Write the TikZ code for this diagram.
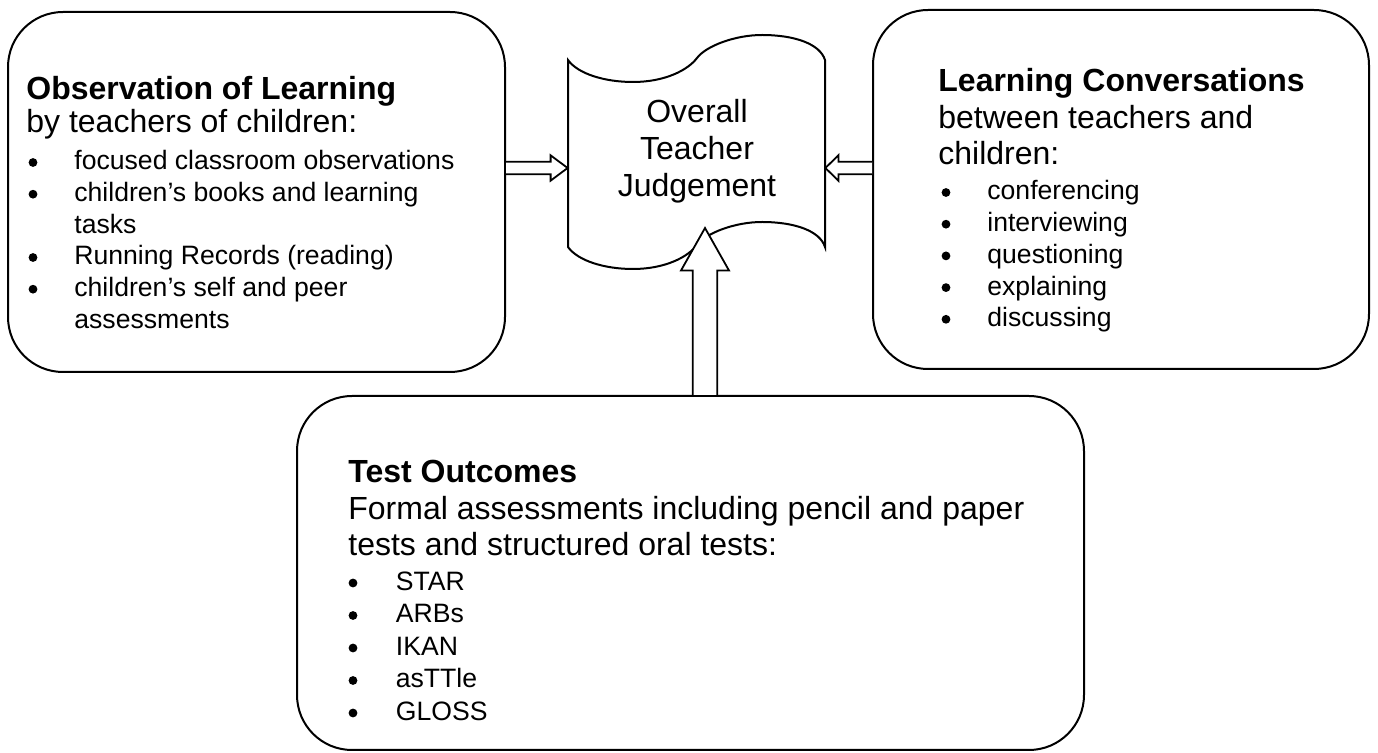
\documentclass[tikz,border=0pt]{standalone}
\usepackage{fontspec}
\setmainfont{Liberation Sans}
\usetikzlibrary{fit,calc}
\newcommand\headsz{\fontsize{16pt}{18.4pt}\selectfont}
\newcommand\itemsz{\fontsize{13.3pt}{15.3pt}\selectfont}
\begin{document}
\begin{tikzpicture}[x=0.5pt,y=-0.5pt,
  box/.style={draw, line width=1pt, rounded corners=27.5pt, inner sep=0pt},
  scrollshape/.style={draw, fill=white, line width=1pt},
  blockarrow/.style={draw, fill=white, line width=0.9pt, line join=miter},
  hd/.style={anchor=base west, inner sep=0pt, font=\headsz},
  hdb/.style={anchor=base west, inner sep=0pt, font=\headsz\bfseries},
  itm/.style={anchor=base west, inner sep=0pt, font=\itemsz},
  bul/.style={circle, fill=black, inner sep=0pt, minimum size=4.4pt},
  ctr/.style={anchor=base, inner sep=0pt, font=\headsz}]
\fill[white] (0,0) rectangle (1378,753);
\useasboundingbox (0,0) rectangle (1378,753);

% boxes
\node[box, fit={(8,12) (505,372)}] (obs) {};
\node[box, fit={(873,10) (1369,369)}] (conv) {};
\node[box, fit={(297,396) (1084,750)}] (test) {};

% scroll (Overall Teacher Judgement)
\draw[scrollshape] (568,60) .. controls (578,74) and (605,82) .. (633,82)
  .. controls (665,82) and (688,70) .. (697,58)
  .. controls (706,46) and (735,35) .. (762,35)
  .. controls (795,35) and (820,44) .. (825,60)
  -- (825,247)
  .. controls (820,231) and (795,222) .. (762,222)
  .. controls (735,222) and (706,233) .. (697,245)
  .. controls (688,257) and (665,269) .. (633,269)
  .. controls (605,269) and (578,261) .. (568,247) -- cycle;
\node[fit={(568,60) (825,247)}, inner sep=0pt] (otj) {};
\node[ctr] (otj1) at (697,123) {Overall};
\node[ctr] (otj2) at (697,160) {Teacher};
\node[ctr] (otj3) at (697,197) {Judgement};

% arrows
\coordinate (la0) at (obs.east |- 0,168);
\coordinate (la1) at (otj.west |- 0,168);
\draw[blockarrow] ($(la0)+(0,-6.3)$) -- ($(la1)+(-17,-6.3)$) -- ($(la1)+(-17,-12.7)$) -- (la1)
  -- ($(la1)+(-17,12.7)$) -- ($(la1)+(-17,6.3)$) -- ($(la0)+(0,6.3)$);
\coordinate (ra0) at (conv.west |- 0,168);
\coordinate (ra1) at (otj.east |- 0,168);
\draw[blockarrow] ($(ra0)+(0,-6.3)$) -- ($(ra1)+(13,-6.3)$) -- ($(ra1)+(13,-12.7)$) -- (ra1)
  -- ($(ra1)+(13,12.7)$) -- ($(ra1)+(13,6.3)$) -- ($(ra0)+(0,6.3)$);
\coordinate (ua0) at (test.north -| 705,0);
\coordinate (ua1) at (705,228);
\draw[blockarrow] ($(ua0)+(-12.3,0)$) -- ($(ua1)+(-12.3,42.5)$) -- ($(ua1)+(-24,42.5)$) -- (ua1)
  -- ($(ua1)+(24,42.5)$) -- ($(ua1)+(12.3,42.5)$) -- ($(ua0)+(12.3,0)$);

% left box text
\node[hdb] (o1) at (26,100) {Observation of Learning};
\node[hd] (o2) at (26,133) {by teachers of children:};
\node[bul] (ob1) at (33,162.5) {};
\node[itm] (oi1) at (74,170) {focused classroom observations};
\node[bul] (ob2) at (33,194.2) {};
\node[itm] (oi2) at (74,201.7) {children’s books and learning};
\node[itm] (oi2b) at (74,233.3) {tasks};
\node[bul] (ob3) at (33,257.5) {};
\node[itm] (oi3) at (74,265) {Running Records (reading)};
\node[bul] (ob4) at (33,289.2) {};
\node[itm] (oi4) at (74,296.7) {children’s self and peer};
\node[itm] (oi4b) at (74,328.3) {assessments};

% right box text
\node[hdb] (c1) at (938,92) {Learning Conversations};
\node[hd] (c2) at (938,128.5) {between teachers and};
\node[hd] (c3) at (938,165) {children:};
\foreach \t [count=\i] in {conferencing,interviewing,questioning,explaining,discussing}{
  \node[bul] (cb\i) at (946,{192.5+31.7*(\i-1)}) {};
  \node[itm] (ci\i) at (987,{200+31.7*(\i-1)}) {\t};
}

% bottom box text
\node[hdb] (t1) at (348,483) {Test Outcomes};
\node[hd] (t2) at (348,519.5) {Formal assessments including pencil and paper};
\node[hd] (t3) at (348,556) {tests and structured oral tests:};
\foreach \t [count=\i] in {STAR,ARBs,IKAN,asTTle,GLOSS}{
  \node[bul] (tb\i) at (353,{583+32.5*(\i-1)}) {};
  \node[itm] (ti\i) at (395.5,{590.5+32.5*(\i-1)}) {\t};
}
\end{tikzpicture}
\end{document}
